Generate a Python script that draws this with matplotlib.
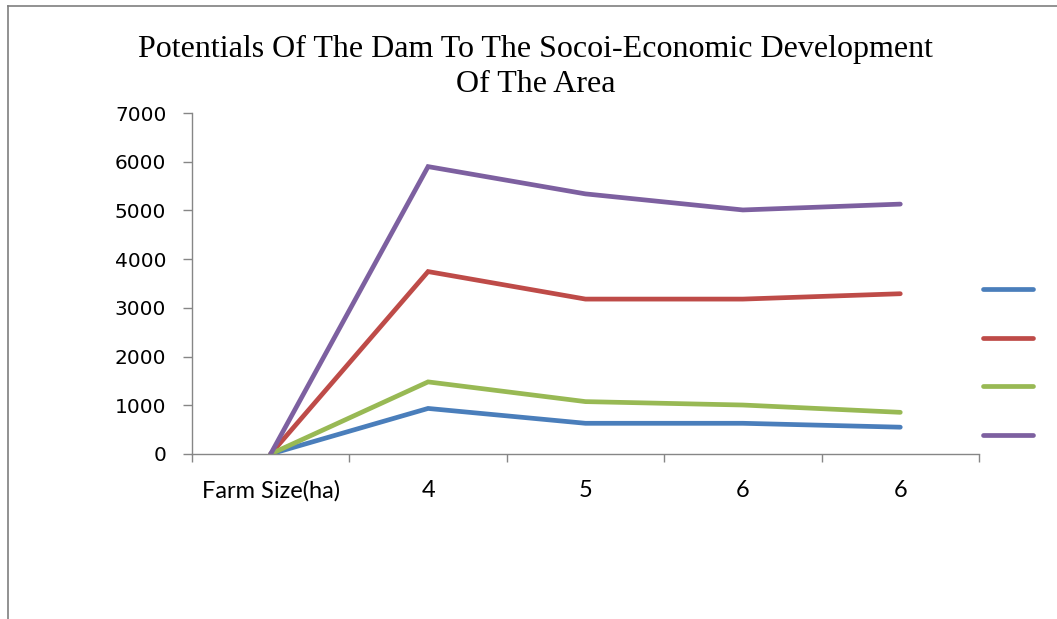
import matplotlib.pyplot as plt
from matplotlib.lines import Line2D

# categories along the x axis and the four series
categories = ["Farm Size(ha)", "4", "5", "6", "6"]
series_1 = [0, 935, 630, 630, 550]
series_2 = [0, 3745, 3180, 3180, 3290]
series_3 = [0, 1480, 1075, 1005, 855]
series_4 = [0, 5900, 5340, 5010, 5130]
colors = ["#4A7EBB", "#BE4B48", "#98B954", "#7D60A0"]
y_ticks = [0, 1000, 2000, 3000, 4000, 5000, 6000, 7000]

axis_grey = "#868686"

fig = plt.figure(figsize=(10.57, 6.19), dpi=100)
ax = fig.add_axes([0.1816, 0.2666, 0.7446, 0.5508])

x = list(range(len(categories)))
lines = []
for vals, c in zip([series_1, series_2, series_3, series_4], colors):
    ln, = ax.plot(x, vals, color=c, lw=3.4, solid_capstyle="round",
                  solid_joinstyle="miter")
    lines.append(ln)

ax.set_xlim(-0.5, len(categories) - 0.5)
ax.set_ylim(0, 7000)
ax.set_yticks(y_ticks)
ax.set_yticklabels([str(v) for v in y_ticks], fontsize=14.5, family="DejaVu Sans")

# category labels in the middle, tick marks on the boundaries
ax.set_xticks(x)
ax.set_xticklabels(categories, fontsize=17, family="Lato")
ax.set_xticks([i - 0.5 for i in range(len(categories) + 1)], minor=True)
ax.tick_params(axis="x", which="major", length=0, pad=19)
ax.tick_params(axis="x", which="minor", length=6, color=axis_grey, width=1)
ax.tick_params(axis="y", length=6.5, color=axis_grey, width=1, pad=12)

for side in ["top", "right"]:
    ax.spines[side].set_visible(False)
for side in ["left", "bottom"]:
    ax.spines[side].set_color(axis_grey)
    ax.spines[side].set_linewidth(1)

fig.text(0.507, 0.944, "Potentials Of The Dam To The Socoi-Economic Development\nOf The Area",
         ha="center", va="top", fontsize=23, family="Liberation Serif",
         linespacing=1.3)

ax.legend(lines, [""] * 4, loc="center left", bbox_to_anchor=(0.989, 0.267),
          frameon=False, handlelength=3.6, handletextpad=0, labelspacing=2.5,
          fontsize=10)

# outer border on the top and left
fig.add_artist(Line2D([0.0076, 0.0076], [0, 0.99], color="#7f7f7f", lw=1.2))
fig.add_artist(Line2D([0.0076, 1], [0.99, 0.99], color="#7f7f7f", lw=1.2))

fig.savefig("out.png", dpi=100)
